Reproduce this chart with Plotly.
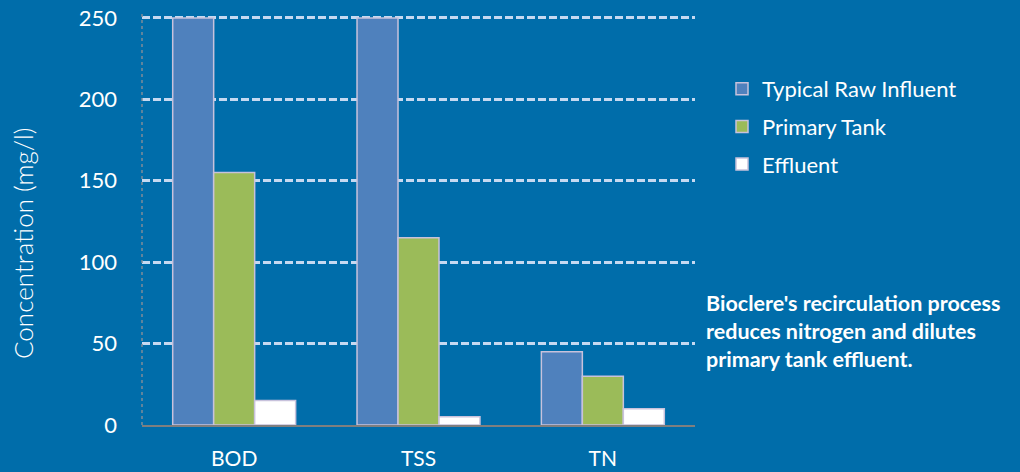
import plotly.graph_objects as go

categories = ["BOD", "TSS", "TN"]
raw_influent = [250, 250, 45]
primary_tank = [155, 115, 30]
effluent = [15, 5, 10]
series_names = ["Typical Raw Influent", "Primary Tank", "Effluent"]
y_ticks = [0, 50, 100, 150, 200, 250]

BG = "#006DAA"
FONT = "Lato"
colors = ["#4F81BD", "#9BBB59", "#FFFFFF"]
outline = "#C8C2DC"

L, R, T, B = 142, 325, 13, 47
W, H = 1020, 472
PW, PH = W - L - R, H - T - B

fig = go.Figure()
for name, vals, col in zip(series_names, [raw_influent, primary_tank, effluent], colors):
    fig.add_trace(go.Bar(
        x=categories, y=vals, name=name, legendgroup=name,
        marker=dict(color=col, line=dict(color=outline, width=1.5)),
    ))

fig.update_layout(
    width=W, height=H,
    paper_bgcolor=BG, plot_bgcolor=BG,
    margin=dict(l=L, r=R, t=T, b=B, autoexpand=False),
    barmode="group", bargap=0.333, bargroupgap=0,
    font=dict(family=FONT, color="white", size=22),
    showlegend=True,
    legend=dict(
        x=(722 - L) / PW, xanchor="left", y=(H - B - 68) / PH, yanchor="top",
        font=dict(size=22, color="white"),
        bgcolor="rgba(0,0,0,0)", traceorder="grouped", tracegroupgap=6,
        itemclick=False,
    ),
    annotations=[
        dict(
            text="Bioclere's recirculation process<br>reduces nitrogen and dilutes<br>primary tank effluent.",
            xref="paper", yref="paper", x=(704 - L) / PW, y=(H - B - 288) / PH,
            xanchor="left", yanchor="top", align="left", showarrow=False,
            font=dict(family=FONT, size=21.5, color="white", weight="bold"),
        ),
        dict(
            text="Concentration (mg/l)", textangle=-90,
            xref="paper", yref="paper", x=(23 - L) / PW, y=(H - B - 244) / PH,
            xanchor="center", yanchor="middle", showarrow=False,
            font=dict(family=FONT, size=26, color="white", weight=300),
        ),
    ],
    shapes=[dict(
        type="line", xref="paper", yref="paper", x0=0, x1=0, y0=0, y1=1,
        line=dict(color="#7F8C99", width=1.5, dash="dot"),
    )],
)
fig.update_xaxes(
    showline=True, linecolor="#7F7F7F", linewidth=2,
    ticks="", ticklabelstandoff=14, tickfont=dict(size=21, color="white"),
    showgrid=False, zeroline=False, automargin=False,
)
fig.update_yaxes(
    range=[0, 253], tickvals=y_ticks, ticktext=[str(v) for v in y_ticks],
    showgrid=True, gridcolor="#C6D9F1", griddash="8px,3px", gridwidth=2.5,
    showline=False, zeroline=False, ticks="", ticklabelstandoff=24,
    tickfont=dict(size=22, color="white"), automargin=False,
)

fig.write_html("out.html", config={"displayModeBar": False},
               post_script="document.body.style.margin='0px';")
